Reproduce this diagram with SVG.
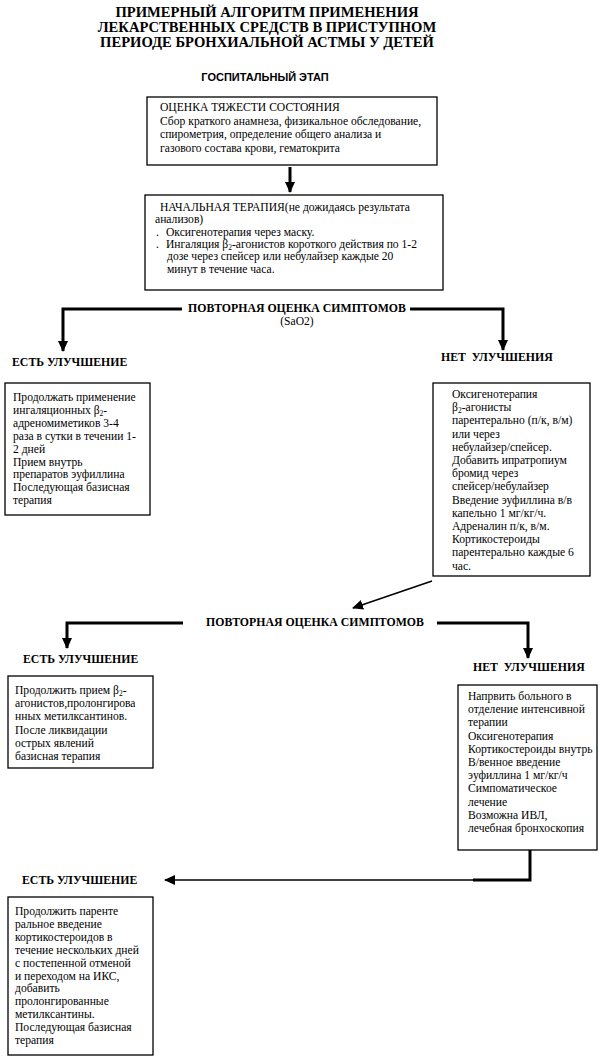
<svg xmlns="http://www.w3.org/2000/svg" width="600" height="1064" viewBox="0 0 600 1064">
<style>
.t{font-family:"Liberation Serif","Times New Roman",serif;font-size:11.6px;fill:#000}
.h{font-family:"Liberation Serif","Times New Roman",serif;font-size:11.8px;font-weight:bold;fill:#000}
.title{font-family:"Liberation Serif","Times New Roman",serif;font-size:14.6px;font-weight:bold;fill:#000;text-anchor:middle}
.sans{font-family:"Liberation Sans",Arial,sans-serif;font-size:11px;font-weight:bold;fill:#000;text-anchor:middle}
.box{fill:#fff;stroke:#000;stroke-width:1.3}
.c{fill:none;stroke:#000;stroke-width:3}
.thin{fill:none;stroke:#000;stroke-width:1.6}
.sub{font-size:7.5px;baseline-shift:-2px}
</style>
<defs>
<marker id="ah" markerUnits="userSpaceOnUse" markerWidth="12" markerHeight="12" viewBox="0 0 12 12" refX="10" refY="6" orient="auto">
<path d="M0,1 L11,6 L0,11 Z" fill="#000"/>
</marker>
</defs>
<rect width="600" height="1064" fill="#fff"/>

<g id="title">
<text class="title" x="267" y="17">ПРИМЕРНЫЙ АЛГОРИТМ ПРИМЕНЕНИЯ</text>
<text class="title" x="267" y="32">ЛЕКАРСТВЕННЫХ СРЕДСТВ В ПРИСТУПНОМ</text>
<text class="title" x="267" y="47">ПЕРИОДЕ БРОНХИАЛЬНОЙ АСТМЫ У ДЕТЕЙ</text>
<text class="sans" x="265" y="81">ГОСПИТАЛЬНЫЙ ЭТАП</text>
</g>

<g id="connectors">
<path class="c" d="M290,167 V192" marker-end="url(#ah)"/>
<path class="c" d="M182,309 H63 V351" marker-end="url(#ah)"/>
<path class="c" d="M410,309 H503 V350" marker-end="url(#ah)"/>
<path class="thin" d="M432,581 L353,608" marker-end="url(#ah)" stroke-width="2.2"/>
<path class="c" d="M183,623 H67 V648" marker-end="url(#ah)"/>
<path class="c" d="M437,623 H528 V658" marker-end="url(#ah)"/>
<path class="c" d="M530,850 V880 H473"/>
<path class="thin" d="M480,880 H165" marker-end="url(#ah)"/>
</g>

<g id="assess">
<rect class="box" x="147" y="97" width="290" height="68"/>
<text class="t" x="160" y="111">ОЦЕНКА ТЯЖЕСТИ СОСТОЯНИЯ</text>
<text class="t" x="160" y="124.5">Сбор краткого анамнеза, физикальное обследование,</text>
<text class="t" x="160" y="138">спирометрия, определение общего анализа и</text>
<text class="t" x="160" y="151.5">газового состава крови, гематокрита</text>
</g>

<g id="initial">
<rect class="box" x="145" y="195" width="298" height="95"/>
<text class="t" x="160" y="211">НАЧАЛЬНАЯ ТЕРАПИЯ(не дожидаясь результата</text>
<text class="t" x="155" y="223.3">анализов)</text>
<text class="t" x="156" y="235.6">.<tspan x="166">Оксигенотерапия через маску.</tspan></text>
<text class="t" x="156" y="247.9">.<tspan x="166">Ингаляция β</tspan><tspan class="sub">2</tspan>-агонистов короткого действия по 1-2</text>
<text class="t" x="167" y="260.2">дозе через спейсер или небулайзер каждые 20</text>
<text class="t" x="167" y="272.5">минут в течение часа.</text>
</g>

<g id="reassess1">
<text class="h" x="297" y="312" text-anchor="middle">ПОВТОРНАЯ ОЦЕНКА СИМПТОМОВ</text>
<text class="t" x="297" y="325" text-anchor="middle" font-size="11">(SaO2)</text>
</g>

<g id="yes1">
<text class="h" x="12" y="366">ЕСТЬ УЛУЧШЕНИЕ</text>
<rect class="box" x="5" y="383" width="145" height="132"/>
<text class="t" x="13" y="401">Продолжать применение</text>
<text class="t" x="13" y="413.9">ингаляционных β<tspan class="sub">2</tspan>-</text>
<text class="t" x="13" y="426.8">адреномиметиков 3-4</text>
<text class="t" x="13" y="439.7">раза в сутки в течении 1-</text>
<text class="t" x="13" y="452.6">2 дней</text>
<text class="t" x="13" y="465.5">Прием внутрь</text>
<text class="t" x="13" y="478.4">препаратов эуфиллина</text>
<text class="t" x="13" y="491.3">Последующая базисная</text>
<text class="t" x="13" y="504.2">терапия</text>
</g>

<g id="no1">
<text class="h" x="441" y="361" xml:space="preserve">НЕТ  УЛУЧШЕНИЯ</text>
<rect class="box" x="433" y="383" width="157" height="193"/>
<text class="t" x="452" y="398">Оксигенотерапия</text>
<text class="t" x="452" y="411.2">β<tspan class="sub">2</tspan>-агонисты</text>
<text class="t" x="452" y="424.4">парентерально (п/к, в/м)</text>
<text class="t" x="452" y="437.6">или через</text>
<text class="t" x="452" y="450.8">небулайзер/спейсер.</text>
<text class="t" x="452" y="464">Добавить ипратропиум</text>
<text class="t" x="452" y="477.2">бромид через</text>
<text class="t" x="452" y="490.4">спейсер/небулайзер</text>
<text class="t" x="452" y="503.6">Введение эуфиллина в/в</text>
<text class="t" x="452" y="516.8">капельно 1 мг/кг/ч.</text>
<text class="t" x="452" y="530">Адреналин п/к, в/м.</text>
<text class="t" x="452" y="543.2">Кортикостероиды</text>
<text class="t" x="452" y="556.4">парентерально каждые 6</text>
<text class="t" x="452" y="569.6">час.</text>
</g>

<g id="reassess2">
<text class="h" x="315" y="626" text-anchor="middle">ПОВТОРНАЯ ОЦЕНКА СИМПТОМОВ</text>
</g>

<g id="yes2">
<text class="h" x="23" y="663">ЕСТЬ УЛУЧШЕНИЕ</text>
<rect class="box" x="8" y="676" width="145" height="92"/>
<text class="t" x="15" y="694">Продолжить прием β<tspan class="sub">2</tspan>-</text>
<text class="t" x="15" y="707.2">агонистов,пролонгирова</text>
<text class="t" x="15" y="720.4">нных метилксантинов.</text>
<text class="t" x="15" y="733.6">После ликвидации</text>
<text class="t" x="15" y="746.8">острых явлений</text>
<text class="t" x="15" y="760">базисная терапия</text>
</g>

<g id="no2">
<text class="h" x="473" y="671" xml:space="preserve">НЕТ  УЛУЧШЕНИЯ</text>
<rect class="box" x="458" y="685" width="139" height="165"/>
<text class="t" x="468" y="700">Напрвить больного в</text>
<text class="t" x="468" y="713.2">отделение интенсивной</text>
<text class="t" x="468" y="726.4">терапии</text>
<text class="t" x="468" y="739.6">Оксигенотерапия</text>
<text class="t" x="468" y="752.8">Кортикостероиды внутрь</text>
<text class="t" x="468" y="766">В/венное введение</text>
<text class="t" x="468" y="779.2">эуфиллина 1 мг/кг/ч</text>
<text class="t" x="468" y="792.4">Симпоматическое</text>
<text class="t" x="468" y="805.6">лечение</text>
<text class="t" x="468" y="818.8">Возможна ИВЛ,</text>
<text class="t" x="468" y="832">лечебная бронхоскопия</text>
</g>

<g id="yes3">
<text class="h" x="22" y="884">ЕСТЬ УЛУЧШЕНИЕ</text>
<rect class="box" x="8" y="897" width="145" height="158"/>
<text class="t" x="15" y="915">Продолжить паренте</text>
<text class="t" x="15" y="927.9">ральное введение</text>
<text class="t" x="15" y="940.8">кортикостероидов в</text>
<text class="t" x="15" y="953.7">течение нескольких дней</text>
<text class="t" x="15" y="966.6">с постепенной отменой</text>
<text class="t" x="15" y="979.5">и переходом на ИКС,</text>
<text class="t" x="15" y="992.4">добавить</text>
<text class="t" x="15" y="1005.3">пролонгированные</text>
<text class="t" x="15" y="1018.2">метилксантины.</text>
<text class="t" x="15" y="1031.1">Последующая базисная</text>
<text class="t" x="15" y="1044">терапия</text>
</g>
</svg>
